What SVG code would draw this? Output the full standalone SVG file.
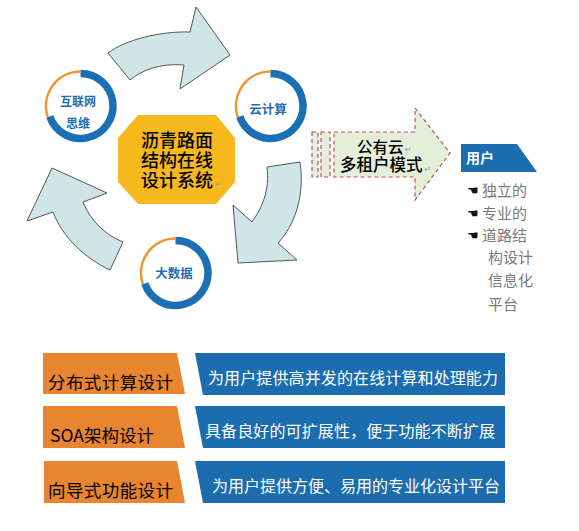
<svg xmlns="http://www.w3.org/2000/svg" xmlns:xlink="http://www.w3.org/1999/xlink" width="579" height="531" viewBox="0 0 579 531">
<style>
.cjk{font-family:"Noto Sans CJK SC","Liberation Sans",sans-serif;}
.ringtxt{fill:#1f6db3;font-weight:bold;text-anchor:middle;}
.cyc{fill:#d0e6e6;stroke:#4e5a5a;stroke-width:1;stroke-linejoin:miter;}
.org{fill:#e9842f;}
.blu{fill:#1c6daf;}
.ltxt{fill:#000;font-size:17.5px;}
.btxt{fill:#fff;font-size:16px;}
.lst{fill:#7a7a7a;font-size:15px;}
.hand{fill:#111;font-size:13px;font-family:"DejaVu Sans",sans-serif;}
.ret{fill:#9a9a9a;font-size:8px;font-family:"DejaVu Sans",sans-serif;}
.oct{fill:#000;font-size:18px;font-weight:500;}
</style>
<defs>
<g id="ring">
<path d="M0,-32.5 A32.5,32.5 0 1 1 -30.73,10.58" fill="none" stroke="#1a6fb5" stroke-width="7.5"/>
<path d="M-32.62,11.23 A34.5,34.5 0 0 1 0,-34.5" fill="none" stroke="#f0932f" stroke-width="2.5"/>
</g>
</defs>
<rect width="579" height="531" fill="#ffffff"/>

<g id="connectors">
<path class="cyc" d="M108,53 C125,40 160,31 190,32 L196,7 L230,55 L180,89 L184,65 C160,63 142,70 130,80 Z"/>
<path class="cyc" d="M267,167 L300,162 C305,195 295,225 278,243 L297,260 L238,263 L233,205 L252,222 C262,208 270,190 267,167 Z"/>
<path class="cyc" d="M52,168 L107,193 L83,202 C90,220 105,235 123,242 L110,270 C85,258 63,238 53,212 L27,221 Z"/>
</g>

<g id="node-internet">
<use xlink:href="#ring" x="80.5" y="106"/>
<text class="cjk ringtxt" x="78" y="106" font-size="12">互联网</text>
<text class="cjk ringtxt" x="78" y="128" font-size="12">思维</text>
</g>

<g id="node-cloud">
<use xlink:href="#ring" x="270.5" y="106"/>
<text class="cjk ringtxt" x="268" y="114" font-size="12.5">云计算</text>
</g>

<g id="node-bigdata">
<use xlink:href="#ring" x="175.5" y="273"/>
<text class="cjk ringtxt" x="174" y="278" font-size="12.5">大数据</text>
</g>

<g id="node-center">
<polygon points="138,115 216,115 235,138 235,182 216,204 138,204 118,182 118,138" fill="#f6b81c"/>
<text class="cjk oct"><tspan x="141" y="147">沥青路面</tspan><tspan x="141" y="167">结构在线</tspan><tspan x="141" y="187">设计系统</tspan><tspan class="ret" x="215" y="187">↵</tspan></text>
</g>

<g id="node-public-cloud">
<polygon points="334,132 415,132 415,108 450,153 415,200 415,177 334,177" fill="#e4efda" stroke="#c0504d" stroke-width="1.2" stroke-dasharray="4,3"/>
<rect x="312" y="132" width="6" height="45" fill="#e4efda" stroke="#c0504d" stroke-width="1.2" stroke-dasharray="4,3"/>
<rect x="321" y="132" width="9" height="45" fill="#e4efda" stroke="#c0504d" stroke-width="1.2" stroke-dasharray="4,3"/>
<text class="cjk" font-size="16" fill="#000" font-weight="500"><tspan x="357" y="153" font-size="15.5">公有云</tspan><tspan class="ret" x="405" y="152">↵</tspan><tspan x="340" y="171" font-size="16.5">多租户模式</tspan><tspan class="ret" x="424.5" y="172">↵</tspan></text>
</g>

<g id="node-user">
<polygon points="461,144 517,144 537,172 461,172" fill="#1c6db0"/>
<text class="cjk" x="466" y="163" font-size="14" fill="#fff" font-weight="bold">用户</text>
<text class="hand" x="467" y="195">☚</text>
<text class="cjk lst" x="482" y="196">独立的</text>
<text class="hand" x="467" y="218">☚</text>
<text class="cjk lst" x="482" y="219">专业的</text>
<text class="hand" x="467" y="240">☚</text>
<text class="cjk lst" x="482" y="241">道路结</text>
<text class="cjk lst" x="488" y="263">构设计</text>
<text class="cjk lst" x="488" y="286">信息化</text>
<text class="cjk lst" x="488" y="310">平台</text>
</g>

<g id="node-row1">
<polygon class="org" points="43,353 177,353 185,394 43,394"/>
<text class="cjk ltxt" x="48" y="389" textLength="125" lengthAdjust="spacing">分布式计算设计</text>
<polygon class="blu" points="195,353 505,353 505,395 203,395"/>
<text class="cjk btxt" x="208" y="384" textLength="290" lengthAdjust="spacing">为用户提供高并发的在线计算和处理能力</text>
</g>

<g id="node-row2">
<polygon class="org" points="43,406 177,406 185,448 43,448"/>
<text class="cjk ltxt" x="50" y="442" textLength="104" lengthAdjust="spacing">SOA架构设计</text>
<polygon class="blu" points="195,406 505,406 505,448 203,448"/>
<text class="cjk btxt" x="205" y="437" textLength="290" lengthAdjust="spacing">具备良好的可扩展性，便于功能不断扩展</text>
</g>

<g id="node-row3">
<polygon class="org" points="44,461 177,461 185,503 44,503"/>
<text class="cjk ltxt" x="48" y="497" textLength="125" lengthAdjust="spacing">向导式功能设计</text>
<polygon class="blu" points="195,461 505,461 505,503 203,503"/>
<text class="cjk btxt" x="212" y="492" textLength="288" lengthAdjust="spacing">为用户提供方便、易用的专业化设计平台</text>
</g>
</svg>
